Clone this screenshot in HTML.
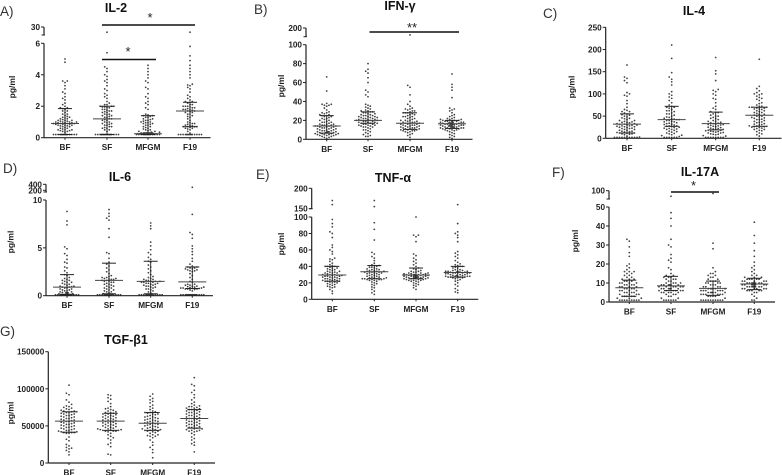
<!DOCTYPE html>
<html lang="en">
<head>
<meta charset="utf-8">
<title>Cytokine levels by feeding group</title>
<style>
html,body{margin:0;padding:0;background:#fff;}
svg{display:block;position:absolute;left:0;top:0;filter:blur(0.35px);}
text{font-family:"Liberation Sans",sans-serif;fill:#222;}
.title{font-size:12.5px;font-weight:700;text-anchor:middle;fill:#111;}
.letter{font-size:13.5px;fill:#333;}
.tick{font-size:8.2px;font-weight:700;fill:#222;}
.ytitle{font-size:8.5px;font-weight:700;text-anchor:middle;fill:#222;}
.star{font-size:13px;text-anchor:middle;fill:#222;}
</style>
</head>
<body>
<svg id="figure" width="782" height="475" viewBox="0 0 782 475" xmlns="http://www.w3.org/2000/svg">
  <rect width="782" height="475" fill="#fff"/>
  <text class="letter" x="0" y="16">A)</text>
  <text class="letter" x="254" y="14">B)</text>
  <text class="letter" x="543" y="18">C)</text>
  <text class="letter" x="3" y="173">D)</text>
  <text class="letter" x="256" y="179">E)</text>
  <text class="letter" x="552" y="177">F)</text>
  <text class="letter" x="0" y="336">G)</text>

  <text class="title" x="116" y="12">IL-2</text>
  <text class="title" x="400" y="10">IFN-γ</text>
  <text class="title" x="694" y="15">IL-4</text>
  <text class="title" x="120" y="181">IL-6</text>
  <text class="title" x="393" y="182">TNF-α</text>
  <text class="title" x="700" y="176">IL-17A</text>
  <text class="title" x="126" y="344">TGF-β1</text>

  <text class="ytitle" transform="translate(15,87) rotate(-90)">pg/ml</text>
  <text class="ytitle" transform="translate(284,86) rotate(-90)">pg/ml</text>
  <text class="ytitle" transform="translate(574.5,87) rotate(-90)">pg/ml</text>
  <text class="ytitle" transform="translate(13.5,242) rotate(-90)">pg/ml</text>
  <text class="ytitle" transform="translate(284,244) rotate(-90)">pg/ml</text>
  <text class="ytitle" transform="translate(578,241) rotate(-90)">pg/ml</text>
  <text class="ytitle" transform="translate(13.5,413) rotate(-90)">pg/ml</text>

  <line x1="102" x2="195" y1="25" y2="25" stroke="#111" stroke-width="1.5"/>
  <text class="star" x="150" y="22">*</text>
  <line x1="102" x2="156" y1="59.5" y2="59.5" stroke="#111" stroke-width="1.5"/>
  <text class="star" x="128" y="56">*</text>
  <line x1="369.5" x2="459" y1="32" y2="32" stroke="#111" stroke-width="1.5"/>
  <text class="star" x="412" y="32">**</text>
  <line x1="671" x2="719" y1="192" y2="192" stroke="#111" stroke-width="1.5"/>
  <text class="star" x="693.5" y="190">*</text>
</svg>

<script>
const groupLabels = ["BF", "SF", "MFGM", "F19"];

const il2Bf = [5,4.8,3.6,3.6,3.5,3.3,3.1,2.9,2.8,2.6,2.5,2.4,2.2,2.1,2,1.9,1.85,1.8,1.7,1.6,1.5,1.4,1.35,1.3,1.25,1.2,1.15,1.1,1.1,1.05,1,1,.95,.95,.9,.9,.85,.85,.8,.8,.75,.7,.65,.6,.55,.5,.5,.45,.4,.35,.2,.2,.2,.2,.2,.2,.2,.2,.2,.2,.2,.2,.2,.2,1.9,1.7,1.5,1.3,1.2,1.1,1,1,.9,.9,.8,.7,.6,.5,.45,.4,1.05,.95,.85,.75];
const il2Sf = [17,5.4,4.5,4.4,4.2,4,3.9,3.7,3.6,3.5,3.3,3.1,3,2.8,2.7,2.6,2.5,2.3,2.2,2.1,2,2,1.95,1.9,1.8,1.7,1.65,1.6,1.5,1.45,1.4,1.35,1.3,1.2,1.15,1.1,1,.95,.9,.85,.8,.7,.65,.6,.5,.4,.2,.2,.2,.2,.2,.2,.2,.2,.2,.2,.2,.2,2.1,2,1.9,1.8,1.7,1.6,1.5,1.4,1.3,1.2,1.1,1,.9,.8,.7,.6,.5,1.95,1.75,.2,.2,.2,.2];
const il2Mfgm = [4.6,4.4,4.2,4,3.8,3.6,3.5,3.2,3.1,2.8,2.6,2.5,2.3,2.2,2.1,1.9,1.8,1.5,1.45,1.4,1.35,1.3,1.2,1.15,1.1,1.05,1,.95,.9,.85,.8,.7,.65,.55,.5,.45,.4,.35,.3,.3,.2,.2,.2,.2,.2,.2,.2,.2,.2,.2,.2,.2,.2,.2,.25,.25,.25,.25,.25,.25,1.4,1.3,1.2,1.1,1,.95,.9,.8,.7,.6,.5,.4,.35,.3,.3,.3,.3,.3,.3,.3];
const il2F19 = [17,5.8,5.2,4.9,4.6,4.4,4.2,4,3.8,3.4,3.35,3.3,3.2,3.1,2.9,2.7,2.6,2.5,2.4,2.3,2.25,2.2,2.1,2,2,1.95,1.9,1.85,1.8,1.8,1.75,1.7,1.65,1.6,1.5,1.4,1.35,1.3,1.2,1.1,1,.95,.9,.85,.8,.75,.7,.7,.65,.6,.55,.5,.4,.3,.2,.2,.2,.2,.2,.2,.2,.2,.2,.2,.2,.2,.2,.2,2.3,2.1,2,1.9,1.8,1.7,1.6,1.5,.9,.8,.7,.7,.6];
const il2Medians = [0.9, 1.2, 0.25, 1.7];
const il2Q1 = [0.2, 0.2, 0.2, 0.7];
const il2Q3 = [1.85, 2, 1.4, 2.25];
const il2TickValues = [0, 2, 4, 6, 30];
const il2TickLabels = ["0", "2", "4", "6", "30"];

const ifnBf = [66,51,38,37,36,35,33,31,29,28,27,26,25,25,24,23,22,21,20,19,18,18,17,16,16,15,15,14,14,14,13,13,12,12,11,11,10,10,9,9,8,8,8,7,7,7,6,6,6,5,5,5,4,4,3,3,2,2,1,37,36,28,26,24,22,20,18,16,15,14,13,12,11,10,9,8,7,6,5,4];
const ifnSf = [80,74,72,70,65,60,52,50,47,45,37,36,35,34,33,32,31,30,29,29,28,27,27,26,25,25,24,24,23,23,22,22,21,21,20,20,20,19,19,18,18,17,17,16,16,15,15,14,13,13,12,11,10,10,9,8,7,6,5,4,3,3,30,28,26,25,24,23,22,21,20,19,18,17,16,15,14,13];
const ifnMfgm = [120,57,55,47,40,37,35,33,32,31,30,29,28,28,27,26,25,24,24,23,22,21,20,20,19,18,18,17,17,16,16,15,15,14,14,13,13,12,12,11,11,10,10,9,9,8,7,6,5,4,2,32,30,28,26,24,22,20,19,18,17,16,15,14,13,12,11,10,9,8];
const ifnF19 = [69,58,55,52,44,33,32,31,30,28,26,25,24,23,22,22,21,21,20,20,19,19,19,18,18,18,17,17,17,16,16,16,16,15,15,15,14,14,14,13,13,13,12,12,12,11,11,10,10,9,8,7,6,5,4,3,2,1,21,20,19,18,18,17,17,16,16,15,15,14,14,13,13,12,12,11,10,9];
const ifnMedians = [14, 20, 17, 16.5];
const ifnQ1 = [6.5, 17, 10.5, 11.5];
const ifnQ3 = [25, 29, 28, 20];
const ifnTickValues = [0, 20, 40, 60, 80, 100, 200];
const ifnTickLabels = ["0", "20", "40", "60", "80", "100", "200"];

const il4Bf = [165,138,135,130,125,103,100,97,95,85,78,70,65,63,60,57,55,53,50,48,46,44,42,40,38,37,36,35,33,32,31,30,29,28,27,26,25,23,22,20,18,16,15,13,12,11,10,9,8,5,3,2,2,2,2,2,2,2,2,2,2,60,52,45,40,36,33,30,28,26,24,22,20,18,16,14,12,10];
const il4Sf = [210,180,148,138,133,127,120,105,100,97,93,90,85,80,75,72,70,68,65,62,60,57,55,52,50,47,45,43,42,40,38,37,35,33,32,30,28,27,25,23,21,20,18,16,14,12,10,8,6,4,2,2,2,2,2,2,70,62,55,48,44,42,40,37,34,31,28,26,24,22,20,15,11,7];
const il4Mfgm = [182,152,145,130,110,108,105,100,97,90,88,80,72,68,65,60,58,55,52,50,47,45,42,40,38,36,35,33,32,31,30,28,27,25,24,22,21,20,18,17,16,15,14,13,12,10,9,8,6,5,2,2,2,2,2,2,2,2,58,50,44,38,34,31,29,26,23,20,18,15,12,9];
const il4F19 = [178,117,112,107,103,100,98,95,90,88,85,80,78,75,72,70,70,68,66,65,62,60,58,56,54,52,50,48,47,45,43,42,40,38,37,35,33,31,30,28,27,26,25,23,22,20,18,17,15,12,10,8,5,100,92,72,70,68,66,62,58,54,50,46,42,36,32,28,26,24,20];
const il4Medians = [32, 42, 33, 52];
const il4Q1 = [12, 27, 19, 27];
const il4Q3 = [55, 72, 59, 70];
const il4TickValues = [0, 50, 100, 150, 200, 250];
const il4TickLabels = ["0", "50", "100", "150", "200", "250"];

const il6Bf = [8.8,7.8,7.4,5.1,4.9,4.4,4.2,3.8,3.5,3.4,3,2.9,2.6,2.4,2.2,2.1,1.9,1.8,1.7,1.6,1.5,1.4,1.3,1.2,1.1,1,.95,.9,.8,.7,.6,.5,.4,.35,.3,.25,.2,.1,.1,.1,.1,.1,.1,.1,.1,.1,.1,.1,.1,.1,.1,.1,.1,1.6,1.4,1.2,1,.9,.8,.7,.6,.5,.4,.3,.2];
const il6Sf = [9,8.6,8.3,8.1,7.9,7,6.1,4.5,4.4,3.9,3.5,3.3,3.1,2.9,2.7,2.5,2.3,2.1,2,1.9,1.8,1.75,1.7,1.6,1.5,1.4,1.3,1.2,1.1,1,.9,.8,.7,.6,.5,.4,.3,.2,.15,.1,.1,.1,.1,.1,.1,.1,.1,.1,.1,.1,.1,.1,.1,1.9,1.8,1.7,1.6,1.5,1.4,1.2,1,.8,.6,.4];
const il6Mfgm = [7.6,7.3,7,5.6,5.2,4.8,4.5,4.3,4,3.8,3.6,3.5,3.2,3,2.8,2.6,2.4,2.2,2,1.9,1.8,1.7,1.6,1.5,1.5,1.4,1.4,1.3,1.3,1.2,1.1,1,.9,.8,.7,.6,.5,.4,.3,.1,.1,.1,.1,.1,.1,.1,.1,.1,.1,.1,.1,.1,.1,1.7,1.6,1.5,1.4,1.3,1.2,1.1,1,.9,.7];
const il6F19 = [300,8.5,6.6,6.4,6,5.2,4.9,4.6,4.3,3.9,3.6,3.3,3.1,3,2.9,2.8,2.7,2.6,2.5,2.3,2.1,1.9,1.7,1.5,1.4,1.2,1.1,1,.95,.9,.85,.8,.75,.7,.7,.65,.6,.5,.1,.1,.1,.1,.1,.1,.1,.1,.1,.1,.1,.1,.1,.1,.1,.1,3,2.9,2.8,2.7,2.6,1.2,1.1,1,.9,.8,.8,.75,.7];
const il6Medians = [0.9, 1.6, 1.5, 1.45];
const il6Q1 = [0.15, 0.2, 0.2, 0.75];
const il6Q3 = [2.2, 3.4, 3.6, 3];
const il6TickValues = [0, 5, 10, 200, 400];
const il6TickLabels = ["0", "5", "10", "200", "400"];

const tnfBf = [170,160,97,92,88,82,80,75,66,63,60,58,55,50,49,48,46,44,42,41,40,40,39,38,37,36,35,34,33,33,32,32,31,30,30,29,29,28,28,27,27,26,25,25,24,23,23,22,22,21,20,19,18,17,16,15,14,12,10,7,40,38,36,34,32,30,29,28,27,26,25,24,23,22,21,20,18,15];
const tnfSf = [170,155,93,85,72,57,55,52,50,47,44,42,41,40,39,38,37,36,35,34,34,33,33,32,32,31,30,29,28,27,27,26,26,25,25,24,24,23,22,21,20,19,18,17,15,14,12,10,8,6,41,39,37,36,35,34,33,32,31,30,29,28,26,25,25,24,24,23];
const tnfMfgm = [100,78,78,76,70,55,53,50,48,46,44,42,40,38,37,36,35,34,33,32,32,31,31,30,30,30,29,29,29,28,28,28,27,27,27,26,26,26,25,25,24,24,23,23,22,22,21,20,19,18,17,16,14,12,34,33,32,31,30,30,29,29,28,28,27,27,26,26,25,25,24,23];
const tnfF19 = [160,92,82,80,78,75,70,58,56,54,52,50,47,45,43,42,41,40,39,38,36,35,34,34,34,33,33,33,32,32,32,31,31,30,30,29,29,28,28,28,27,27,26,26,25,24,23,22,20,18,16,13,11,9,8,40,38,36,35,34,33,33,32,32,31,30,29,28,28,27,27,26];
const tnfMedians = [29.5, 33.5, 29.5, 32.5];
const tnfQ1 = [22, 25, 25, 27];
const tnfQ3 = [40, 41, 38, 40];
const tnfTickValues = [0, 20, 40, 60, 80, 100, 150, 200];
const tnfTickLabels = ["0", "20", "40", "60", "80", "100", "150", "200"];

const il17Bf = [33,32,29,26,24,20,19,18,17,16,16,15,14,14,13,12,12,11,11,10,10,10,9,9,9,8,8,8,7,7,7,6,6,6,5,5,5,4,4,4,3,3,3,2,2,1,1,1,1,1,1,1,1,1,16,15,13,12,11,10,9,8,7,6,5,4,3,3,2];
const il17Sf = [70,47,44,40,33,30,29,25,23,22,21,18,17,15,14,14,13,13,12,12,11,10,10,10,9,9,9,9,8,8,8,8,7,7,7,7,6,6,6,6,5,5,5,4,4,3,3,2,2,1,1,1,1,1,1,13,12,11,10,9,9,8,8,7,7,6,6,5,5,4];
const il17Mfgm = [85,31,28,18,16,15,15,14,14,13,13,12,12,11,11,10,10,10,9,9,8,8,8,7,7,7,7,6,6,6,6,5,5,5,5,4,4,4,4,3,3,3,2,1,1,1,1,1,1,1,1,1,1,11,10,9,8,7,7,6,6,5,5,4,4,3];
const il17F19 = [42,35,31,27,24,21,19,18,17,16,15,14,14,13,13,12,12,12,11,11,11,10,10,10,10,10,9,9,9,9,9,8,8,8,8,8,7,7,7,7,6,6,6,5,5,4,3,2,1,1,13,12,12,11,11,10,10,10,9,9,9,8,8,8,7,7,6,6];
const il17Medians = [7.5, 8.5, 7.2, 9.5];
const il17Q1 = [3, 6, 3.5, 6.5];
const il17Q3 = [11.5, 13.5, 11, 12.5];
const il17TickValues = [0, 10, 20, 30, 40, 50, 100];
const il17TickLabels = ["0", "10", "20", "30", "40", "50", "100"];

/* TGF-beta1 values are in thousands of pg/ml */
const tgfBf = [105,94,92,85,82,79,77,76,75,74,73,72,71,70,69,69,68,67,66,65,64,63,62,61,60,59,58,57,56,55,54,53,52,51,50,49,48,47,46,45,44,43,42,41,41,40,35,32,30,25,23,21,20,19,17,15,11,70,68,66,64,62,60,58,56,54,52,50,48,46,44,42,41,40];
const tgfSf = [92,91,88,86,83,80,76,74,73,72,71,70,69,68,67,66,65,64,63,62,61,60,59,58,57,56,55,54,53,52,51,50,49,48,47,46,45,44,44,43,42,40,38,36,34,33,31,27,25,22,12,11,68,66,64,62,60,58,56,54,52,50,48,46,45,44,43,43];
const tgfMfgm = [93,90,87,85,83,81,78,76,74,72,70,69,68,67,66,65,64,63,62,61,60,59,58,57,56,55,54,53,52,51,50,49,48,47,46,45,44,43,42,41,40,38,37,36,34,31,28,24,21,18,14,7,68,66,62,60,58,56,54,52,50,48,46,45,44,43,38,36];
const tgfF19 = [115,106,104,98,95,92,88,85,82,80,78,77,76,75,74,73,72,71,70,69,68,67,66,65,64,63,62,61,60,59,58,57,56,55,54,53,52,51,50,49,48,47,46,45,44,43,42,40,38,35,33,31,28,26,24,15,76,74,72,70,68,66,64,62,60,58,56,54,52,50,48,46,44,43];
const tgfMedians = [56.5, 56.5, 53.5, 60];
const tgfQ1 = [41.5, 44, 44, 47];
const tgfQ3 = [69, 67, 68, 72];
const tgfTickValues = [0, 50, 100, 150];
const tgfTickLabels = ["0", "50000", "100000", "150000"];

const svg = document.getElementById('figure');
const NS = 'http://www.w3.org/2000/svg';

function add(tag, attrs, text) {
  const el = document.createElementNS(NS, tag);
  for (const k in attrs) el.setAttribute(k, attrs[k]);
  if (text !== undefined) el.textContent = text;
  svg.appendChild(el);
  return el;
}

function makeScale(p) {
  return function (v) {
    if (!p.upper || v <= p.lowMax) {
      return p.y0 + (p.yLow - p.y0) * (v / p.lowMax);
    }
    const u = p.upper;
    const c = Math.max(v, u.min);
    return u.yBottom + (u.yTop - u.yBottom) * ((c - u.min) / (u.max - u.min));
  };
}

/* Beeswarm with a hard half-width limit: tries progressively finer x-steps
   when a row is already full, so floor values stay inside the group's column. */
function swarm(values, y, gap, maxSpread) {
  const sorted = values.slice().sort(function (a, b) { return a - b; });
  const placed = [];
  sorted.forEach(function (v) {
    const py = y(v);
    let best = null;
    [gap, gap / 2, gap / 4].forEach(function (step) {
      if (best !== null) return;
      const count = Math.floor(maxSpread / step) * 2 + 1;
      for (let i = 0; i < count; i++) {
        const sign = i % 2 === 0 ? 1 : -1;
        const dx = sign * Math.ceil(i / 2) * step;
        const hit = placed.some(function (q) {
          const ax = q.x - dx, ay = q.y - py;
          return ax * ax + ay * ay < step * step * 0.9;
        });
        if (!hit) { best = dx; break; }
      }
    });
    placed.push({ x: best === null ? 0 : best, y: py });
  });
  return placed;
}

function drawPanel(p) {
  const y = makeScale(p);

  p.groups.forEach(function (values, g) {
    const cx = p.centers[g];
    const groupName = groupLabels[g].toLowerCase();
    swarm(values, y, p.gap, 13.5).forEach(function (pt) {
      const dot = add('circle', { cx: cx + pt.x, cy: pt.y, r: 0.9, fill: '#222', 'fill-opacity': 0.85 });
      
      
    });

    const med = add('line', { x1: cx - 14, x2: cx + 14, y1: y(p.medians[g]), y2: y(p.medians[g]), stroke: '#444', 'stroke-width': 1 });
    
    

    const stem = add('line', { x1: cx, x2: cx, y1: y(p.q1[g]), y2: y(p.q3[g]), stroke: '#222', 'stroke-width': 0.9 });
    
    

    [p.q1[g], p.q3[g]].forEach(function (q) {
      const cap = add('line', { x1: cx - 7, x2: cx + 7, y1: y(q), y2: y(q), stroke: '#222', 'stroke-width': 1 });
      
      
    });

    const lab = add('text', { x: cx, y: p.y0 + 12.5, 'text-anchor': 'middle', class: 'tick' }, groupLabels[g]);
    
    

    const tk = add('line', { x1: cx, x2: cx, y1: p.y0, y2: p.y0 + 2, stroke: '#222', 'stroke-width': 1 });
    
    
  });

  const xAxis = add('line', { x1: p.axisX, x2: p.axisEnd, y1: p.y0, y2: p.y0, stroke: '#222', 'stroke-width': 1.2 });
  
  

  const yAxis = add('line', { x1: p.axisX, x2: p.axisX, y1: p.y0, y2: p.yLow, stroke: '#222', 'stroke-width': 1.2 });
  
  

  if (p.upper) {
    const yUp = add('line', { x1: p.axisX, x2: p.axisX, y1: p.upper.yBottom, y2: p.upper.yTop, stroke: '#222', 'stroke-width': 1.2 });
    
    

    const foot = add('line', { x1: p.axisX - 2.5, x2: p.axisX + 1, y1: p.upper.yBottom, y2: p.upper.yBottom, stroke: '#222', 'stroke-width': 1 });
    
    
  }

  p.ticks.forEach(function (v, i) {
    const ty = y(v);
    const t = add('line', { x1: p.axisX - 3, x2: p.axisX, y1: ty, y2: ty, stroke: '#222', 'stroke-width': 1 });
    
    

    const lab = add('text', { x: p.axisX - 4, y: ty + 3, 'text-anchor': 'end', class: 'tick' }, p.tickLabels[i]);
    
    
  });
}

const panels = [
  { key: 'il-2', groups: [il2Bf, il2Sf, il2Mfgm, il2F19], medians: il2Medians, q1: il2Q1, q3: il2Q3,
    ticks: il2TickValues, tickLabels: il2TickLabels, axisX: 44, axisEnd: 210.5, y0: 137.7, yLow: 43.3, lowMax: 6,
    upper: { min: 10, max: 30, yBottom: 35, yTop: 27 }, centers: [65, 107, 148, 190], gap: 2.3 },
  { key: 'ifn-gamma', groups: [ifnBf, ifnSf, ifnMfgm, ifnF19], medians: ifnMedians, q1: ifnQ1, q3: ifnQ3,
    ticks: ifnTickValues, tickLabels: ifnTickLabels, axisX: 306, axisEnd: 472.5, y0: 139.3, yLow: 44.7, lowMax: 100,
    upper: { min: 100.01, max: 200, yBottom: 36.7, yTop: 28 }, centers: [326.7, 368, 410, 452], gap: 2.3 },
  { key: 'il-4', groups: [il4Bf, il4Sf, il4Mfgm, il4F19], medians: il4Medians, q1: il4Q1, q3: il4Q3,
    ticks: il4TickValues, tickLabels: il4TickLabels, axisX: 605.7, axisEnd: 781.5, y0: 138.3, yLow: 27.3, lowMax: 250,
    upper: null, centers: [627, 671.7, 715.7, 759.3], gap: 2.5 },
  { key: 'il-6', groups: [il6Bf, il6Sf, il6Mfgm, il6F19], medians: il6Medians, q1: il6Q1, q3: il6Q3,
    ticks: il6TickValues, tickLabels: il6TickLabels, axisX: 46, axisEnd: 213, y0: 295.7, yLow: 200, lowMax: 10,
    upper: { min: 143, max: 400, yBottom: 192, yTop: 184.3 }, centers: [67, 109, 150.7, 192.3], gap: 2.3 },
  { key: 'tnf-alpha', groups: [tnfBf, tnfSf, tnfMfgm, tnfF19], medians: tnfMedians, q1: tnfQ1, q3: tnfQ3,
    ticks: tnfTickValues, tickLabels: tnfTickLabels, axisX: 311.7, axisEnd: 478.3, y0: 299.3, yLow: 217, lowMax: 100,
    upper: { min: 150, max: 200, yBottom: 208.7, yTop: 188.3 }, centers: [332.3, 374.3, 416, 457.7], gap: 2.4 },
  { key: 'il-17a', groups: [il17Bf, il17Sf, il17Mfgm, il17F19], medians: il17Medians, q1: il17Q1, q3: il17Q3,
    ticks: il17TickValues, tickLabels: il17TickLabels, axisX: 609, axisEnd: 775, y0: 302, yLow: 207, lowMax: 50,
    upper: { min: 55, max: 100, yBottom: 199, yTop: 190.7 }, centers: [629.3, 671, 713, 754.3], gap: 2.4 },
  { key: 'tgf-beta1', groups: [tgfBf, tgfSf, tgfMfgm, tgfF19], medians: tgfMedians, q1: tgfQ1, q3: tgfQ3,
    ticks: tgfTickValues, tickLabels: tgfTickLabels, axisX: 48.3, axisEnd: 215, y0: 463, yLow: 351.7, lowMax: 150,
    upper: null, centers: [69, 110.7, 152.7, 194.3], gap: 2.6 }
];

panels.forEach(drawPanel);
</script>
</body>
</html>
